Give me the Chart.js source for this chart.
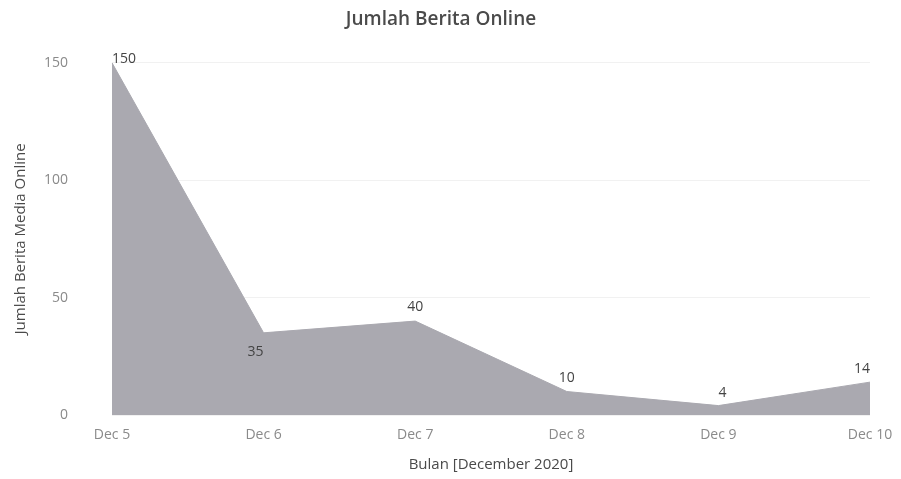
<!DOCTYPE html>
<html lang="id">
<head>
  <meta charset="UTF-8">
  <title>Jumlah Berita Online</title>
  <script src="https://cdn.jsdelivr.net/npm/chart.js"></script>
  <style>
    body { margin: 0; background: #ffffff; }
    #chart { display: block; }
  </style>
</head>
<body>
  <canvas id="chart" width="901" height="479"></canvas>
  <script>
    // data
    const labels = ['Dec 5', 'Dec 6', 'Dec 7', 'Dec 8', 'Dec 9', 'Dec 10'];
    const jumlahBerita = [150, 35, 40, 10, 4, 14];
    const yTicks = [0, 50, 100, 150];

    // where each value label sits relative to its point: [dx, dy, align]
    const labelPlacement = [
      [0, -4, 'left'],
      [0, 19, 'right'],
      [0, -14, 'center'],
      [0, -14, 'center'],
      [4, -13, 'center'],
      [0, -13, 'right']
    ];

    const valueLabels = {
      id: 'valueLabels',
      afterDatasetsDraw(chart) {
        const ctx = chart.ctx;
        const meta = chart.getDatasetMeta(0);
        ctx.save();
        ctx.font = '14px "Open Sans", sans-serif';
        ctx.fillStyle = '#444';
        ctx.textBaseline = 'middle';
        meta.data.forEach((pt, i) => {
          const p = labelPlacement[i];
          ctx.textAlign = p[2];
          ctx.fillText(jumlahBerita[i], pt.x + p[0], pt.y + p[1]);
        });
        ctx.restore();
      }
    };

    new Chart(document.getElementById('chart'), {
      type: 'line',
      data: {
        labels: labels,
        datasets: [{
          data: jumlahBerita,
          fill: 'origin',
          backgroundColor: '#aaa9b0',
          borderColor: '#aaa9b0',
          borderWidth: 1,
          pointRadius: 0,
          tension: 0
        }]
      },
      options: {
        responsive: false,
        animation: false,
        layout: { padding: { left: 12, right: 31, top: 0, bottom: 5 } },
        plugins: {
          legend: { display: false },
          tooltip: { enabled: false },
          title: {
            display: true,
            text: 'Jumlah Berita Online',
            color: '#4a4a4a',
            font: { family: '"Open Sans", sans-serif', size: 19, weight: '600' },
            padding: { top: 8, bottom: 32 }
          }
        },
        scales: {
          x: {
            offset: false,
            grid: { display: false, drawTicks: false },
            border: { display: false },
            ticks: {
              color: '#8a8a8a',
              font: { family: '"Open Sans", sans-serif', size: 14 },
              padding: 12,
              maxRotation: 0
            },
            title: {
              display: true,
              text: 'Bulan [December 2020]',
              color: '#4a4a4a',
              font: { family: '"Open Sans", sans-serif', size: 15 },
              padding: { top: 4, bottom: 0 }
            },
            afterFit(scale) {
              scale.height = 59;
              scale.paddingLeft = 0;
              scale.paddingRight = 0;
            }
          },
          y: {
            min: 0,
            max: 150,
            afterBuildTicks(scale) { scale.ticks = yTicks.map(v => ({ value: v })); },
            grid: { color: '#f1f1f1', drawTicks: false },
            border: { display: false },
            ticks: {
              color: '#8a8a8a',
              font: { family: '"Open Sans", sans-serif', size: 14 },
              padding: 44
            },
            title: {
              display: true,
              text: 'Jumlah Berita Media Online',
              color: '#4a4a4a',
              font: { family: '"Open Sans", sans-serif', size: 15 },
              padding: { top: 0, bottom: 0 }
            },
            afterFit(scale) { scale.width = 100; }
          }
        }
      },
      plugins: [valueLabels]
    });
  </script>
</body>
</html>
